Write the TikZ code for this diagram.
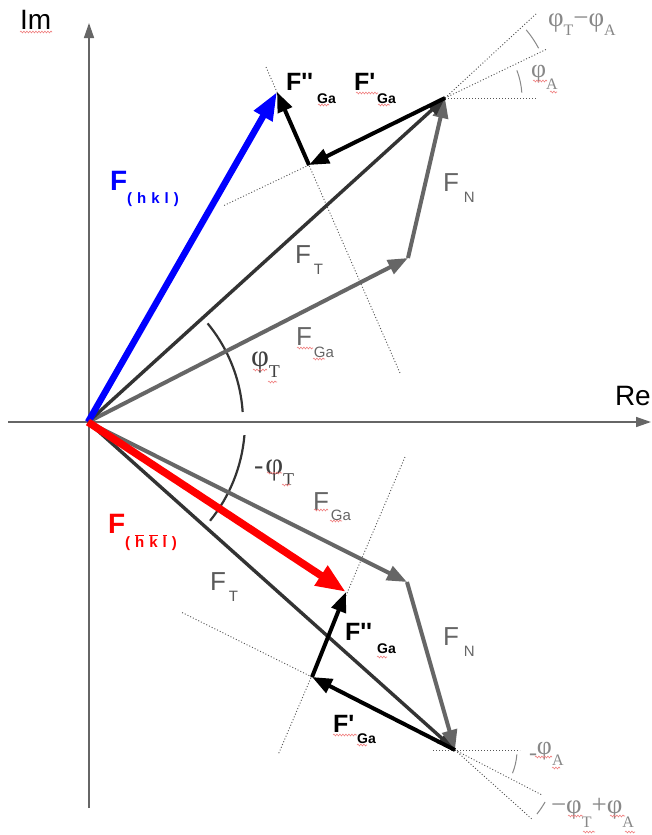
\documentclass[tikz,border=0pt]{standalone}
\usepackage{fontspec}
\setmainfont{Liberation Sans}[Ligatures=TeXOff]
\newfontfamily\serif{Liberation Serif}
\usetikzlibrary{arrows.meta,decorations.pathmorphing}
\definecolor{cdark}{HTML}{333333}
\definecolor{cgray}{HTML}{666666}
\definecolor{cax}{HTML}{666666}
\definecolor{cdot}{HTML}{555555}
\definecolor{ctxt}{HTML}{5A5A5A}
\definecolor{cphi}{HTML}{404040}
\definecolor{csmall}{HTML}{888888}
\definecolor{csq}{HTML}{F08080}
\definecolor{cblue}{HTML}{0000FF}
\definecolor{cred}{HTML}{FF0000}
\newcommand\fs[1]{\fontsize{#1}{#1}\selectfont}
\tikzset{
  ftline/.style={cdark, line width=3.4pt, -{Triangle[length=18pt,width=13pt]}},
  galine/.style={cgray, line width=4pt, -{Triangle[length=20pt,width=15pt]}},
  compline/.style={black, line width=4pt, -{Triangle[length=20pt,width=15pt]}},
  bluevec/.style={cblue, line width=6.5pt, -{Triangle[length=28pt,width=20pt]}},
  redvec/.style={cred, line width=7.5pt, -{Triangle[length=30pt,width=22pt]}},
  axis/.style={cax, line width=1.5pt, -{Triangle[length=15pt,width=10pt]}},
  guide/.style={cdot, line width=0.9pt, dash pattern=on 1pt off 2pt},
  arcl/.style={cdark, line width=2.2pt},
  sarc/.style={csmall, line width=1pt},
  lbl/.style={anchor=base west, inner sep=0pt, outer sep=0pt},
  squig/.style={csq, line width=0.6pt, decorate, decoration={snake, amplitude=0.9pt, segment length=3pt}}
}
\begin{document}
\begin{tikzpicture}[x=1pt,y=-1pt]
\useasboundingbox (0,0) rectangle (652,835);
\fill[white] (0,0) rectangle (652,835);

% key points
\coordinate (O) at (88,422);
\coordinate (T1) at (445,98);
\coordinate (G1) at (408,258);
\coordinate (C1) at (309,165);
\coordinate (H1) at (277,92);
\coordinate (T2) at (455,750);
\coordinate (G2) at (407,582);
\coordinate (C2) at (312,677);
\coordinate (H2) at (346,592);

% axes
\coordinate (ImB) at (89,808);
\coordinate (ImT) at (89,23);
\coordinate (ReL) at (8,422);
\coordinate (ReR) at (651,422);
\draw[axis] (ImB) -- (ImT);
\draw[axis] (ReL) -- (ReR);
\node[lbl] (im) at (20,29) {\fs{28}Im};
\node[lbl] (re) at (615,405) {\fs{28}Re};

% dotted guides (upper)
\coordinate (u1a) at (266,67);
\coordinate (u1b) at (400,373);
\coordinate (u2) at (223,206);
\draw[guide] (u1a) -- (u1b);
\draw[guide] (C1) -- (u2);
\coordinate (u3) at (536,98);
\coordinate (u4) at (547,49);
\coordinate (u5) at (537,13);
\draw[guide] (T1) -- (u3);
\draw[guide] (T1) -- (u4);
\draw[guide] (T1) -- (u5);
\draw[sarc] (T1) ++(-4:77) arc[start angle=-4,end angle=-21,radius=77];
\draw[sarc] (T1) ++(-28:106) arc[start angle=-28,end angle=-40,radius=106];

% dotted guides (lower)
\coordinate (l1a) at (405,457);
\coordinate (l1b) at (278,755);
\coordinate (l2) at (181,612);
\draw[guide] (l1a) -- (l1b);
\draw[guide] (C2) -- (l2);
\coordinate (l3a) at (433,750);
\coordinate (l3b) at (520,750);
\coordinate (l4) at (542,795);
\coordinate (l5) at (533,820);
\draw[guide] (l3a) -- (l3b);
\draw[guide] (T2) -- (l4);
\draw[guide] (T2) -- (l5);
\draw[sarc] (T2) ++(4:62) arc[start angle=4,end angle=22,radius=62];
\draw[sarc] (T2) ++(30:104) arc[start angle=30,end angle=38,radius=104];

% angle arcs at origin
\draw[arcl] (O) ++(-3.7:155) arc[start angle=-3.7,end angle=-39.5,radius=155];
\draw[arcl] (O) ++(4.8:157) arc[start angle=4.8,end angle=39,radius=157];

% upper vectors
\draw[galine] (O) -- (G1);
\draw[galine] (G1) -- (T1);
\draw[ftline] (O) -- (T1);
\draw[compline] (T1) -- (C1);
\draw[compline] (C1) -- (H1);
\draw[bluevec] (O) -- (H1);

% lower vectors
\draw[galine] (O) -- (G2);
\draw[ftline] (O) -- (T2);
\draw[galine] (G2) -- (T2);
\draw[compline] (T2) -- (C2);
\draw[compline] (C2) -- (H2);
\draw[redvec] (O) -- (H2);

% labels upper
\node[lbl, text=cblue] (fhkl) at (110,190) {{\fs{28}\bfseries F}\raisebox{-13pt}{\fs{15}\bfseries (\hspace{5pt}h\hspace{5pt}k\hspace{5pt}l\hspace{5pt})}};
\node[lbl, text=ctxt] (ft1) at (295,263) {{\fs{26}F}\hspace{3pt}\raisebox{-11pt}{\fs{15}T}};
\node[lbl, text=cgray] (fga1) at (296,345) {{\fs{26}F}\hspace{2pt}\raisebox{-12pt}{\fs{15}Ga}};
\node[lbl, text=cgray] (fn1) at (443,191) {{\fs{26}F}\hspace{5pt}\raisebox{-11pt}{\fs{15}N}};
\node[lbl, text=black] (fpp1) at (286,90) {{\fs{25}\bfseries F''}\hspace{4pt}\raisebox{-13pt}{\fs{14}\bfseries Ga}};
\node[lbl, text=black] (fp1) at (354,90) {{\fs{25}\bfseries F'}\hspace{2pt}\raisebox{-13pt}{\fs{14}\bfseries Ga}};
\node[lbl, text=cphi] (phit1) at (251,366) {\serif{\fs{31}φ}\raisebox{-11pt}{\fs{18}T}};
\node[lbl, text=csmall] (phia1) at (531,77) {\serif{\fs{26}φ}\raisebox{-12pt}{\fs{16}A}};
\node[lbl, text=csmall] (phita1) at (548,27) {\serif{\fs{27}φ}\raisebox{-9pt}{\fs{16}T}{\fs{27}−φ}\raisebox{-9pt}{\fs{16}A}};

% labels lower
\node[lbl, text=cred] (fhkl2) at (108,533) {{\fs{28}\bfseries F}\raisebox{-14pt}{\fs{15}\bfseries (\hspace{5pt}$\overline{\mbox{h}}$\hspace{5pt}$\overline{\mbox{k}}$\hspace{5pt}$\overline{\mbox{l}}$\hspace{5pt})}};
\node[lbl, text=ctxt] (ft2) at (210,590) {{\fs{26}F}\hspace{3pt}\raisebox{-11pt}{\fs{15}T}};
\node[lbl, text=cgray] (fga2) at (313,510) {{\fs{26}F}\hspace{2pt}\raisebox{-10pt}{\fs{15}Ga}};
\node[lbl, text=cgray] (fn2) at (443,645) {{\fs{26}F}\hspace{5pt}\raisebox{-11pt}{\fs{15}N}};
\node[lbl, text=black] (fpp2) at (345,640) {{\fs{25}\bfseries F''}\hspace{5pt}\raisebox{-13pt}{\fs{14}\bfseries Ga}};
\node[lbl, text=black] (fp2) at (333,732) {{\fs{25}\bfseries F'}\hspace{3pt}\raisebox{-11pt}{\fs{14}\bfseries Ga}};
\node[lbl, text=cphi] (phit2) at (254,474) {\serif{\fs{28}-}\hspace{2pt}{\fs{31}φ}\raisebox{-11pt}{\fs{18}T}};
\node[lbl, text=csmall] (phia2) at (529,754) {\serif\raisebox{-6pt}{\fs{24}-}{\fs{26}φ}\raisebox{-11pt}{\fs{16}A}};
\node[lbl, text=csmall] (phita2) at (551,813) {\serif{\fs{27}−φ}\raisebox{-14pt}{\fs{16}T}{\fs{27}+φ}\raisebox{-14pt}{\fs{16}A}};

% spell-check squiggles
\draw[squig] (20,32) -- (52,32);
\draw[squig] (356,93) -- (378,93);
\draw[squig] (378,105) -- (390,105);
\draw[squig] (318,105) -- (329,105);
\draw[squig] (533,81) -- (547,81);
\draw[squig] (550,92) -- (557,92);
\draw[squig] (297,348) -- (313,348);
\draw[squig] (313,359) -- (325,359);
\draw[squig] (253,370) -- (267,370);
\draw[squig] (268,382) -- (277,382);
\draw[squig] (267,473) -- (282,473);
\draw[squig] (282,485) -- (290,485);
\draw[squig] (314,510) -- (328,510);
\draw[squig] (330,521) -- (342,521);
\draw[squig] (377,657) -- (387,657);
\draw[squig] (333,735) -- (357,735);
\draw[squig] (357,745) -- (367,745);
\draw[squig] (535,757) -- (552,757);
\draw[squig] (552,768) -- (560,768);
\draw[squig] (568,816) -- (583,816);
\draw[squig] (583,832) -- (595,832);
\draw[squig] (610,816) -- (625,816);
\draw[squig] (625,832) -- (635,832);
\end{tikzpicture}
\end{document}
